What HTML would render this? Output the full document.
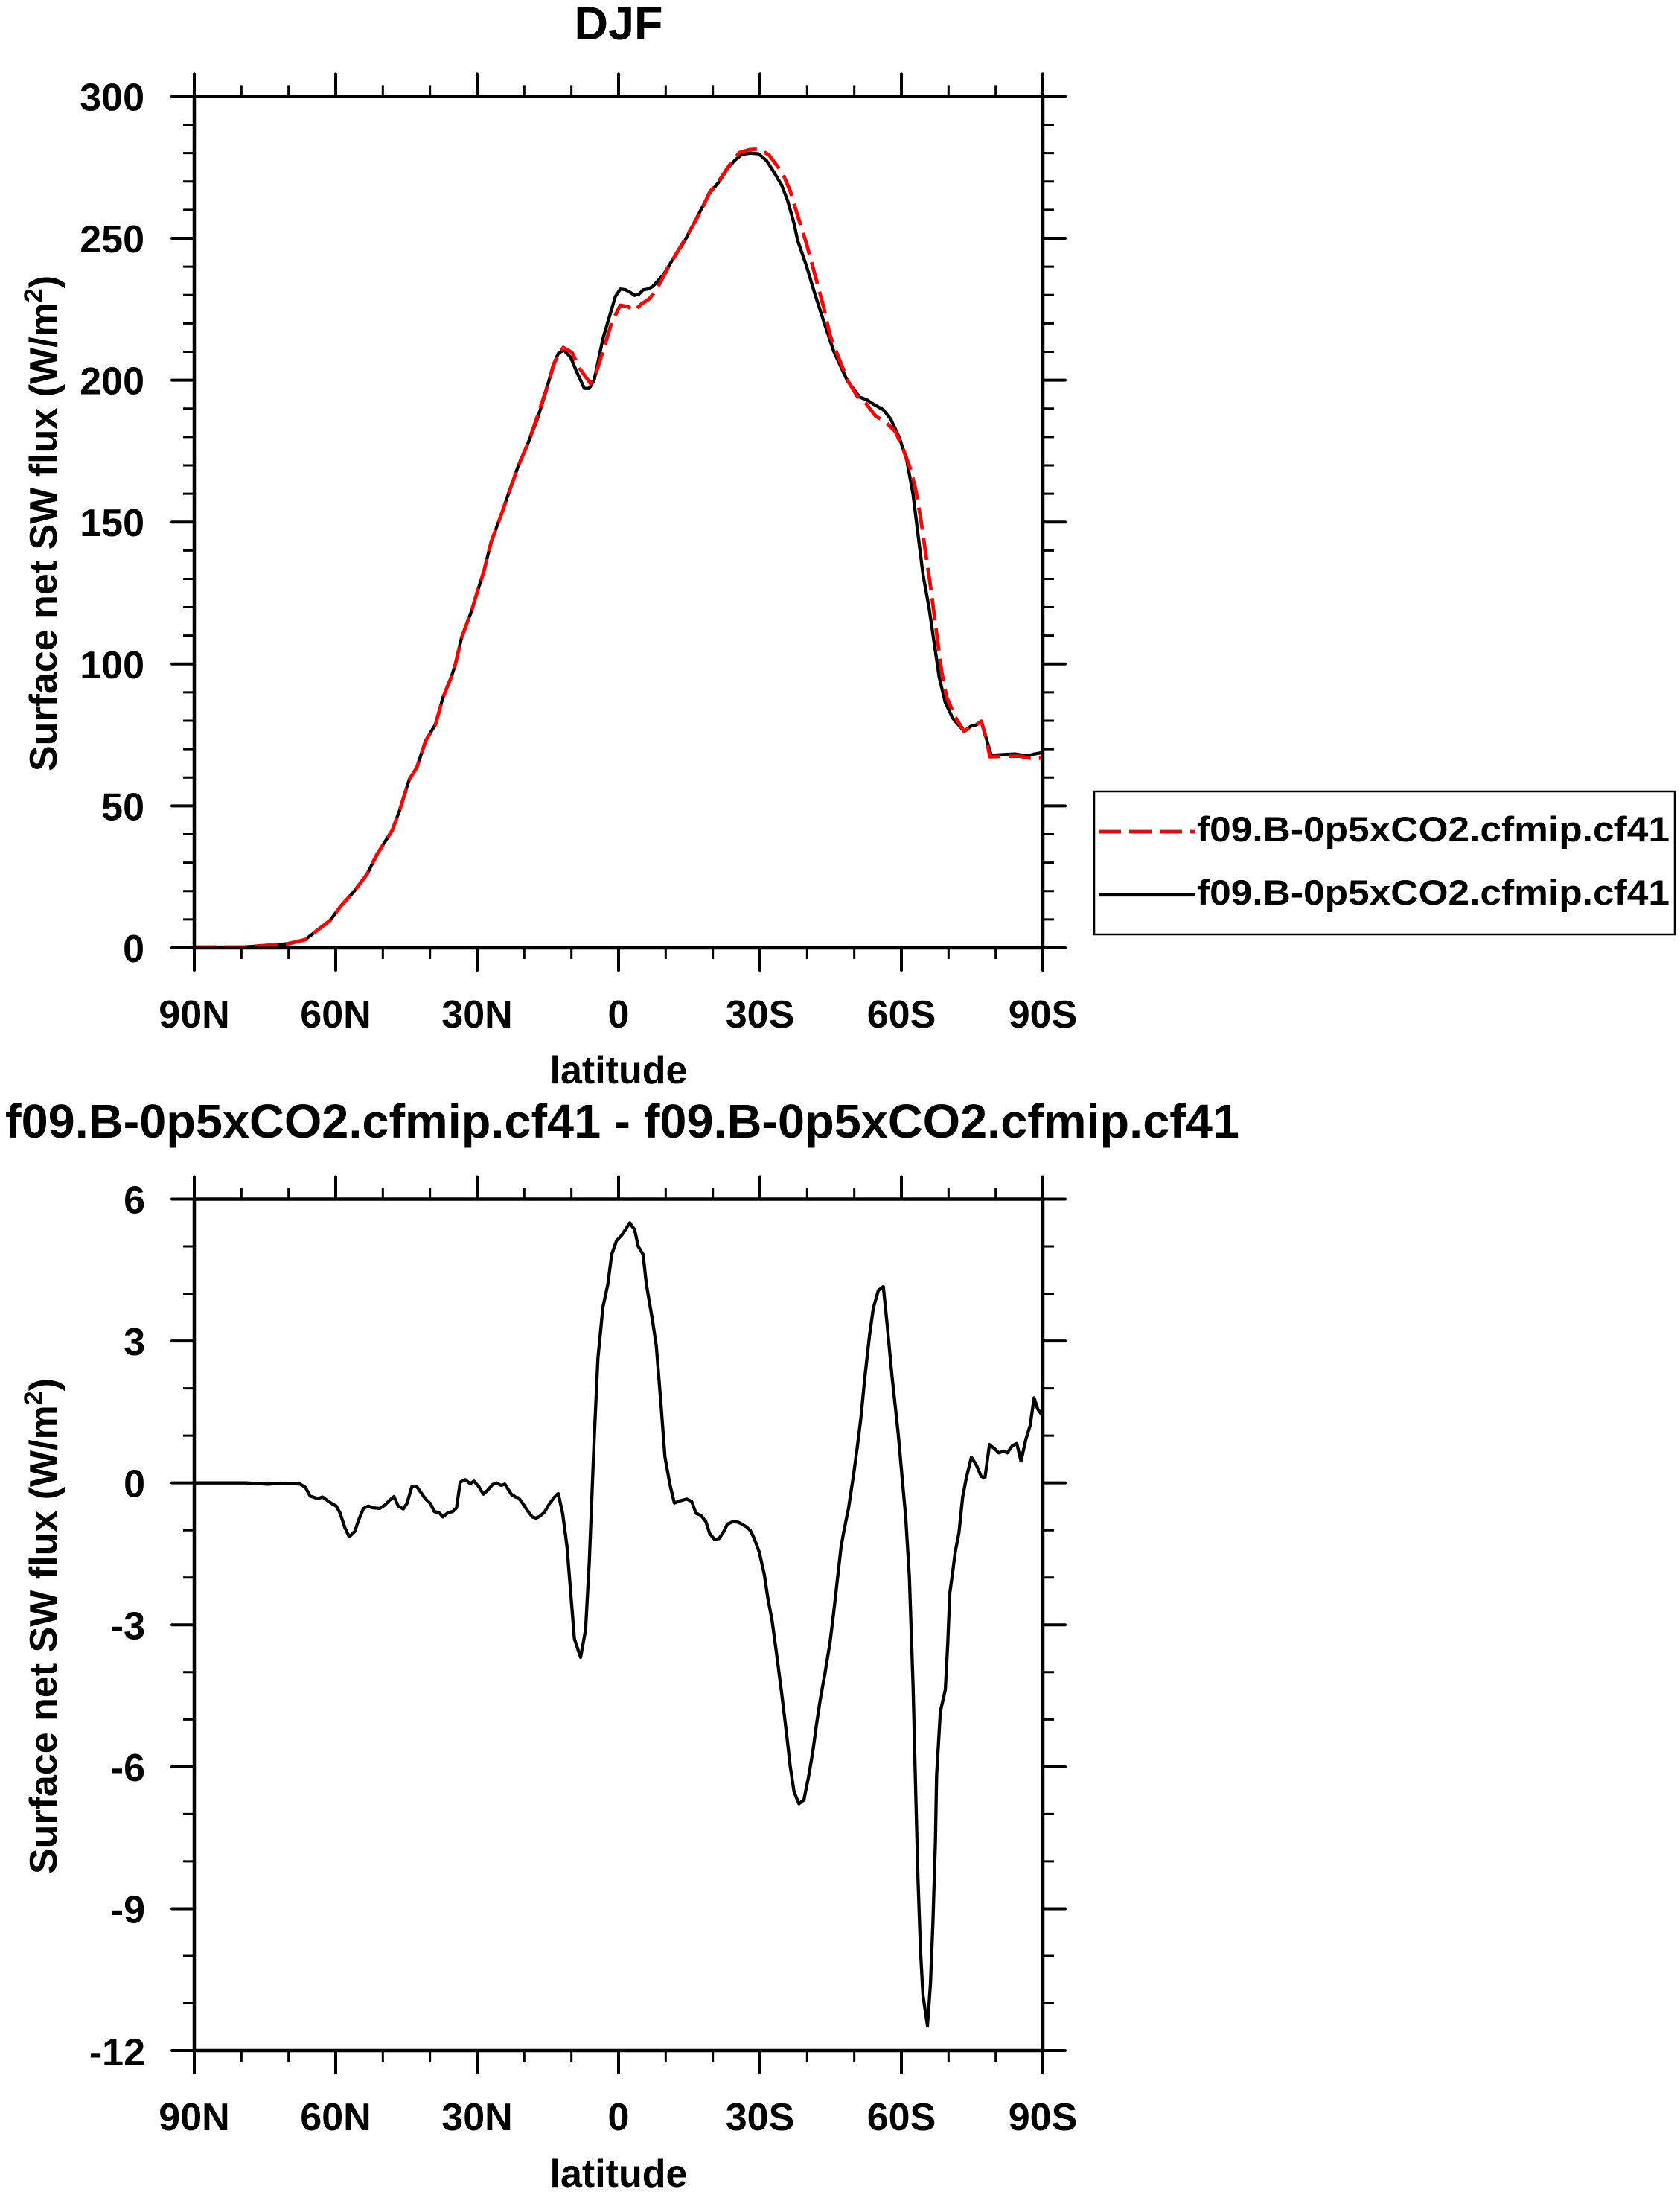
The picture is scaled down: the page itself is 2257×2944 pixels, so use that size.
<!DOCTYPE html>
<html>
<head>
<meta charset="utf-8">
<style>
html,body{margin:0;padding:0;background:#fff;}
svg{display:block;}
text{font-family:"Liberation Sans",Arial,Helvetica,sans-serif;font-weight:bold;fill:#000;}
</style>
</head>
<body>
<svg width="2257" height="2944" viewBox="0 0 2257 2944" xmlns="http://www.w3.org/2000/svg">
<rect x="0" y="0" width="2257" height="2944" fill="#fff"/>

<!-- ================= TOP PLOT ================= -->
<text x="831" y="53" font-size="63" text-anchor="middle">DJF</text>

<!-- curves -->
<polyline fill="none" stroke="#000" stroke-width="4.3" stroke-linejoin="round" points="261,1272 326.7,1272 386.7,1267.5 410,1262 443.3,1236.3 456.7,1218.4 476.7,1196 493.3,1173.8 506.7,1147 526.7,1115.7 536.7,1088.9 550,1046.5 560,1030.9 571.7,995.2 585,972.9 595,937.1 606.7,908.1 611.7,892.5 620,856.8 633.3,821.1 640,798.8 650,767.5 660,727.3 673.3,691.6 683.3,662.6 696.7,624.6 708.3,597.9 721.7,563.3 733.3,526.7 743.3,490 750,475 757.3,470 766.7,480 775,500 785,521.7 791.7,521.7 798.3,510 810,455 818.3,426.7 826.7,398.3 833.3,388.3 840,389 846.7,392.7 852.7,396.7 858.3,395 864,389.3 870,388.3 876.7,385 883.3,377.7 891.7,368.3 903.3,349.3 920,323.3 940,285 953.3,259.3 966.7,243.3 978.3,225 988.3,214.3 996.7,207.3 1008.3,205.7 1019.3,206.7 1030,216 1040,231.7 1050,248.3 1058.3,270 1066.7,300 1071.7,323.3 1083.3,356.7 1093.3,390 1105,426.7 1120,471.7 1138.3,511.2 1155,533.4 1165,537.3 1175,543.8 1186.7,550.3 1196.7,562.9 1208.3,587.8 1218.3,618.4 1226.7,664.3 1233.3,717.9 1240,771.5 1248.3,817.4 1255,863.3 1261.7,909.2 1270,943.7 1280,964.7 1295,982 1305,975 1311.7,973.5 1318.3,968.6 1323.3,985.8 1331.7,1014.5 1343.3,1013.7 1363.3,1012.6 1380,1015.3 1390,1012.6 1401,1010.7"/>
<polyline fill="none" stroke="#ff0000" stroke-width="4.8" stroke-dasharray="30 11" stroke-linejoin="round" points="261,1272 326.7,1272 386.7,1267.5 410,1262 443.3,1236.3 456.7,1218.4 476.7,1196 493.3,1173.8 506.7,1147 526.7,1115.7 536.7,1088.9 550,1046.5 560,1030.9 571.7,995.2 585,972.9 595,937.1 606.7,908.1 611.7,892.5 620,856.8 633.3,821.1 640,798.8 650,767.5 660,727.3 673.3,691.6 683.3,662.6 696.7,624.6 708.3,597.9 720,565 733.3,525 745,486.7 756.7,466.7 768.3,473.3 780,496.7 793.3,515 800,503.3 811.7,466.7 821.7,433.3 833.3,410 843.3,411.7 852.7,416.7 861.7,408.3 871.7,401.7 880,391.7 886.7,380 900,355 920,321.7 940,286.7 953.3,258.3 966.7,241.7 980,221.7 993.3,205 1006.7,201 1020,200 1033.3,208.3 1043.3,221.7 1051.7,233.3 1061.7,256.7 1071.7,290 1083.3,326.7 1093.3,363.3 1106.7,413.3 1115,450 1126.7,480.6 1140,513.1 1151.7,532.3 1163.3,541.8 1176.7,559.1 1190,566.7 1203.3,580.1 1213.3,603.1 1223.3,629.9 1230,656.7 1236.7,694.9 1243.3,740.9 1250,786.8 1255,825 1260,863.3 1265,901.6 1271.7,936 1283.3,962.8 1295,982 1305,976.2 1313.3,972.4 1318.3,968.6 1323.3,985.8 1330,1016.4 1350,1015.6 1370,1015.6 1383.3,1018.3 1396.7,1018.3 1401,1016.4"/>

<!-- frame -->
<rect x="261" y="129.4" width="1140" height="1143.6" fill="none" stroke="#000" stroke-width="4.5"/>

<!-- minor ticks -->
<path fill="none" stroke="#000" stroke-width="3" d="
M324.33,1273v15M387.67,1273v15M451,1273v15M514.33,1273v15M577.67,1273v15M641,1273v15M704.33,1273v15M767.67,1273v15M831,1273v15M894.33,1273v15M957.67,1273v15M1021,1273v15M1084.33,1273v15M1147.67,1273v15M1211,1273v15M1274.33,1273v15M1337.67,1273v15
M324.33,129.4v-15M387.67,129.4v-15M451,129.4v-15M514.33,129.4v-15M577.67,129.4v-15M641,129.4v-15M704.33,129.4v-15M767.67,129.4v-15M831,129.4v-15M894.33,129.4v-15M957.67,129.4v-15M1021,129.4v-15M1084.33,129.4v-15M1147.67,129.4v-15M1211,129.4v-15M1274.33,129.4v-15M1337.67,129.4v-15
M261,1234.88h-15M261,1196.76h-15M261,1158.64h-15M261,1120.52h-15M261,1044.28h-15M261,1006.16h-15M261,968.04h-15M261,929.92h-15M261,853.68h-15M261,815.56h-15M261,777.44h-15M261,739.32h-15M261,663.08h-15M261,624.96h-15M261,586.84h-15M261,548.72h-15M261,472.48h-15M261,434.36h-15M261,396.24h-15M261,358.12h-15M261,281.88h-15M261,243.76h-15M261,205.64h-15M261,167.52h-15
M1401,1234.88h15M1401,1196.76h15M1401,1158.64h15M1401,1120.52h15M1401,1044.28h15M1401,1006.16h15M1401,968.04h15M1401,929.92h15M1401,853.68h15M1401,815.56h15M1401,777.44h15M1401,739.32h15M1401,663.08h15M1401,624.96h15M1401,586.84h15M1401,548.72h15M1401,472.48h15M1401,434.36h15M1401,396.24h15M1401,358.12h15M1401,281.88h15M1401,243.76h15M1401,205.64h15M1401,167.52h15"/>
<!-- major ticks -->
<path fill="none" stroke="#000" stroke-width="4" stroke-linecap="round" d="
M261,1273v30M451,1273v30M641,1273v30M831,1273v30M1021,1273v30M1211,1273v30M1401,1273v30
M261,129.4v-30M451,129.4v-30M641,129.4v-30M831,129.4v-30M1021,129.4v-30M1211,129.4v-30M1401,129.4v-30
M261,1273h-30M261,1082.4h-30M261,891.8h-30M261,701.2h-30M261,510.6h-30M261,320h-30M261,129.4h-30
M1401,1273h30M1401,1082.4h30M1401,891.8h30M1401,701.2h30M1401,510.6h30M1401,320h30M1401,129.4h30"/>

<!-- y tick labels -->
<g font-size="52" text-anchor="end">
<text x="194" y="148.4">300</text>
<text x="194" y="339">250</text>
<text x="194" y="529.6">200</text>
<text x="194" y="720.2">150</text>
<text x="194" y="910.8">100</text>
<text x="194" y="1101.4">50</text>
<text x="194" y="1292">0</text>
</g>
<!-- x tick labels -->
<g font-size="52" text-anchor="middle">
<text x="261" y="1380">90N</text>
<text x="451" y="1380">60N</text>
<text x="641" y="1380">30N</text>
<text x="831" y="1380">0</text>
<text x="1021" y="1380">30S</text>
<text x="1211" y="1380">60S</text>
<text x="1401" y="1380">90S</text>
<text x="831" y="1455">latitude</text>
</g>
<!-- y title -->
<text transform="translate(76,703) rotate(-90)" font-size="52" text-anchor="middle">Surface net SW flux (W/m<tspan dy="-20" font-size="34">2</tspan><tspan dy="20">)</tspan></text>

<!-- legend -->
<rect x="1470" y="1063" width="780" height="192" fill="#fff" stroke="#000" stroke-width="2.5"/>
<line x1="1476" y1="1117" x2="1606" y2="1117" stroke="#ff0000" stroke-width="4.8" stroke-dasharray="30 11"/>
<line x1="1476" y1="1202" x2="1606" y2="1202" stroke="#000" stroke-width="4.3"/>
<text x="1608" y="1130" font-size="47" textLength="635" lengthAdjust="spacingAndGlyphs">f09.B-0p5xCO2.cfmip.cf41</text>
<text x="1608" y="1215" font-size="47" textLength="635" lengthAdjust="spacingAndGlyphs">f09.B-0p5xCO2.cfmip.cf41</text>

<!-- ================= BOTTOM PLOT ================= -->
<text x="7" y="1528" font-size="64" textLength="1658" lengthAdjust="spacingAndGlyphs">f09.B-0p5xCO2.cfmip.cf41 - f09.B-0p5xCO2.cfmip.cf41</text>

<polyline fill="none" stroke="#000" stroke-width="4.3" stroke-linejoin="round" points="261,1991.7 330,1991.7 360,1993.3 376.7,1992 393.3,1992.3 403.3,1993.3 410,1997.3 416.7,2009.3 426.7,2012.7 433.3,2010.7 446.7,2020 451.7,2022.7 456.7,2031.7 463.3,2051.7 469.3,2064 476.7,2056.7 481.7,2041.7 488.3,2026 495,2022.7 500,2025 510,2026 516.7,2021.7 523.3,2015 529.3,2010 535,2022.7 541.7,2026.7 546.7,2019.3 553.3,1996.7 560,1996.7 571.7,2013.3 578.3,2019.3 583.3,2030 590,2031.7 595,2037.3 601.7,2031.7 608.3,2030 613.3,2025 618.3,1990.7 625,1987.3 631.7,1992.7 636.7,1989.3 643.3,1996.7 649.3,2006.7 655,2001.7 661.7,1994 666.7,1991.7 673.3,1995 678.3,1993.3 686.7,2006.7 692.7,2010.7 696.7,2011.7 703.3,2020.7 708.3,2028.3 715,2037.3 720,2039 725,2036.7 731.7,2030.7 738.3,2019.3 745,2010.7 750,2006 756,2033.3 761.7,2076.8 766.7,2139 771.7,2201.2 780,2226 786.7,2188.7 791.7,2097.5 795,2014.6 798.3,1931.7 803.3,1823.9 810,1755.5 816.7,1724.4 821.7,1685 828.3,1666.3 835,1659.3 840,1651.8 846,1642.3 852.7,1651.8 857.3,1673.8 864,1685 868.3,1724.4 876.7,1774.1 881.7,1807.3 888.3,1890.2 893.3,1956.6 900,1993.9 906,2018.7 913.3,2015.8 922.7,2013.3 929.3,2016.7 935,2032.4 941.7,2035.3 948.3,2043.6 953.3,2059.4 960,2067.7 966,2066.4 971.7,2058.1 977.3,2046.9 985,2043.6 991.7,2044.4 996.7,2046.9 1003.3,2051.1 1008.3,2056 1013.3,2066.4 1020,2084.5 1026.7,2114 1031.7,2147.3 1037.3,2176.9 1043.3,2221.3 1050,2273.1 1056.7,2328.6 1061.7,2372.9 1066.7,2406.2 1073.3,2422.5 1080,2417.3 1086,2387.7 1091.7,2354.4 1096.7,2317.5 1101.7,2284.2 1108.3,2247.2 1115,2206.5 1120,2165.8 1125,2121.4 1130,2077.1 1133.3,2058.6 1140,2025.3 1146.7,1980.9 1151.7,1943.9 1156.7,1903.3 1161.7,1851.5 1168.3,1792.3 1173.3,1756.8 1180,1733.1 1186.7,1728 1191.7,1777.5 1198.3,1847.8 1206.7,1925.4 1213.3,1999.4 1216.7,2036.4 1221.7,2117.8 1226.7,2265.7 1230,2398.8 1233.3,2524.6 1236.7,2620.7 1240,2679.9 1246,2720.6 1250,2665.1 1253.3,2583.7 1256.7,2472.8 1258.3,2384 1263.3,2299 1270,2269.4 1273.3,2206.5 1276,2139.9 1280,2110.4 1283.3,2084.5 1288.3,2058.6 1293.3,2010.5 1298.3,1984.6 1305,1957.2 1311.7,1967.6 1318.3,1983.1 1323.3,1984.6 1329.3,1940.2 1336.7,1946.2 1341.7,1951.3 1348.3,1949.1 1353.3,1951.3 1360,1941.7 1366,1938.8 1371.7,1962.4 1378.3,1932.8 1384,1914.3 1389.3,1877.4 1394,1892.2 1399.3,1899.6 1401,1900"/>

<rect x="261" y="1610.5" width="1140" height="1143.5" fill="none" stroke="#000" stroke-width="4.5"/>

<path fill="none" stroke="#000" stroke-width="3" d="
M324.33,2754v15M387.67,2754v15M451,2754v15M514.33,2754v15M577.67,2754v15M641,2754v15M704.33,2754v15M767.67,2754v15M831,2754v15M894.33,2754v15M957.67,2754v15M1021,2754v15M1084.33,2754v15M1147.67,2754v15M1211,2754v15M1274.33,2754v15M1337.67,2754v15
M324.33,1610.5v-15M387.67,1610.5v-15M451,1610.5v-15M514.33,1610.5v-15M577.67,1610.5v-15M641,1610.5v-15M704.33,1610.5v-15M767.67,1610.5v-15M831,1610.5v-15M894.33,1610.5v-15M957.67,1610.5v-15M1021,1610.5v-15M1084.33,1610.5v-15M1147.67,1610.5v-15M1211,1610.5v-15M1274.33,1610.5v-15M1337.67,1610.5v-15
M261,1674.03h-15M261,1737.56h-15M261,1864.62h-15M261,1928.15h-15M261,2055.21h-15M261,2118.74h-15M261,2245.8h-15M261,2309.33h-15M261,2436.39h-15M261,2499.92h-15M261,2626.98h-15M261,2690.51h-15
M1401,1674.03h15M1401,1737.56h15M1401,1864.62h15M1401,1928.15h15M1401,2055.21h15M1401,2118.74h15M1401,2245.8h15M1401,2309.33h15M1401,2436.39h15M1401,2499.92h15M1401,2626.98h15M1401,2690.51h15"/>
<path fill="none" stroke="#000" stroke-width="4" stroke-linecap="round" d="
M261,2754v30M451,2754v30M641,2754v30M831,2754v30M1021,2754v30M1211,2754v30M1401,2754v30
M261,1610.5v-30M451,1610.5v-30M641,1610.5v-30M831,1610.5v-30M1021,1610.5v-30M1211,1610.5v-30M1401,1610.5v-30
M261,1610.5h-30M261,1801.09h-30M261,1991.68h-30M261,2182.27h-30M261,2372.86h-30M261,2563.45h-30M261,2754h-30
M1401,1610.5h30M1401,1801.09h30M1401,1991.68h30M1401,2182.27h30M1401,2372.86h30M1401,2563.45h30M1401,2754h30"/>

<g font-size="52" text-anchor="end">
<text x="195" y="1629.5">6</text>
<text x="195" y="1820.1">3</text>
<text x="195" y="2010.7">0</text>
<text x="195" y="2201.3">-3</text>
<text x="195" y="2391.9">-6</text>
<text x="195" y="2582.5">-9</text>
<text x="195" y="2774">-12</text>
</g>
<g font-size="52" text-anchor="middle">
<text x="261" y="2861">90N</text>
<text x="451" y="2861">60N</text>
<text x="641" y="2861">30N</text>
<text x="831" y="2861">0</text>
<text x="1021" y="2861">30S</text>
<text x="1211" y="2861">60S</text>
<text x="1401" y="2861">90S</text>
<text x="831" y="2937">latitude</text>
</g>
<text transform="translate(76,2184) rotate(-90)" font-size="52" text-anchor="middle">Surface net SW flux (W/m<tspan dy="-20" font-size="34">2</tspan><tspan dy="20">)</tspan></text>
</svg>
</body>
</html>
